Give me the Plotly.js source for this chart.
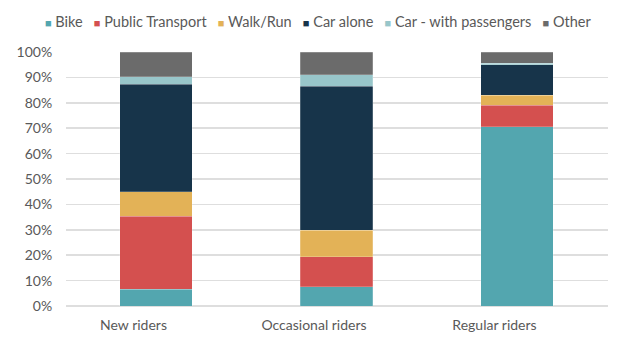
<!DOCTYPE html>
<html>
<head>
<meta charset="utf-8">
<script src="https://cdn.plot.ly/plotly-3.0.1.min.js"></script>
<style>html,body{margin:0;padding:0;background:#fff;}#chart{width:640px;height:342px;}</style>
</head>
<body>
<div id="chart"></div>
<script>
var categories = ["New riders", "Occasional riders", "Regular riders"];
var seriesNames = ["Bike", "Public Transport", "Walk/Run", "Car alone", "Car - with passengers", "Other"];
var bike = [6.6, 7.5, 70.6];
var publicTransport = [28.8, 11.8, 8.5];
var walkRun = [9.6, 10.5, 3.9];
var carAlone = [42.3, 56.7, 11.9];
var carPassengers = [3.0, 4.6, 0.6];
var other = [9.7, 8.9, 4.5];
var yTickValues = [0, 10, 20, 30, 40, 50, 60, 70, 80, 90, 100];
var yTickLabels = ["0%", "10%", "20%", "30%", "40%", "50%", "60%", "70%", "80%", "90%", "100%"];

var colors = ["#53A6AF", "#D4504F", "#E3B257", "#17344A", "#98C6CA", "#6B6B6B"];
var seriesValues = [bike, publicTransport, walkRun, carAlone, carPassengers, other];

var traces = seriesValues.map(function (vals, i) {
  return {
    type: "bar",
    name: seriesNames[i],
    x: categories,
    y: vals,
    width: 0.4,
    offset: -0.075,
    marker: { color: colors[i], line: { color: "rgba(255,255,255,0.35)", width: 0.6 } },
    showlegend: false,
    hoverinfo: "name+y"
  };
});

var sp = "\u00A0\u00A0\u00A0";
var legendText = seriesNames.map(function (n, i) {
  return '<span style="color:' + colors[i] + ';font-size:11px">\u25A0</span>\u00A0' + n;
}).join(sp);

var layout = {
  width: 640,
  height: 342,
  margin: { l: 66, r: 32, t: 52, b: 36 },
  paper_bgcolor: "#ffffff",
  plot_bgcolor: "#ffffff",
  font: { family: "Lato, 'Open Sans', sans-serif", color: "#595959", size: 13 },
  barmode: "stack",
  showlegend: false,
  xaxis: {
    type: "category",
    range: [-0.374, 2.629],
    showgrid: false,
    zeroline: false,
    showline: false,
    ticks: "outside",
    ticklen: 6,
    tickcolor: "rgba(0,0,0,0)",
    tickfont: { family: "Lato, sans-serif", size: 14, color: "#595959" },
    fixedrange: true
  },
  yaxis: {
    range: [0, 100],
    tickvals: yTickValues,
    ticktext: yTickLabels,
    showgrid: true,
    gridcolor: "#dedede",
    gridwidth: 1.5,
    zeroline: true,
    zerolinecolor: "#dedede",
    zerolinewidth: 1.5,
    showline: false,
    ticks: "outside",
    ticklen: 10,
    tickcolor: "rgba(0,0,0,0)",
    tickfont: { family: "Lato, sans-serif", size: 14, color: "#595959" },
    fixedrange: true
  },
  annotations: [{
    xref: "paper",
    yref: "paper",
    x: (318 - 66) / 542,
    y: 1,
    yshift: 31,
    xanchor: "center",
    yanchor: "middle",
    showarrow: false,
    text: legendText,
    font: { family: "Lato, sans-serif", size: 14.5, color: "#595959" }
  }]
};

Plotly.newPlot("chart", traces, layout, { displayModeBar: false, staticPlot: true });
</script>
</body>
</html>
